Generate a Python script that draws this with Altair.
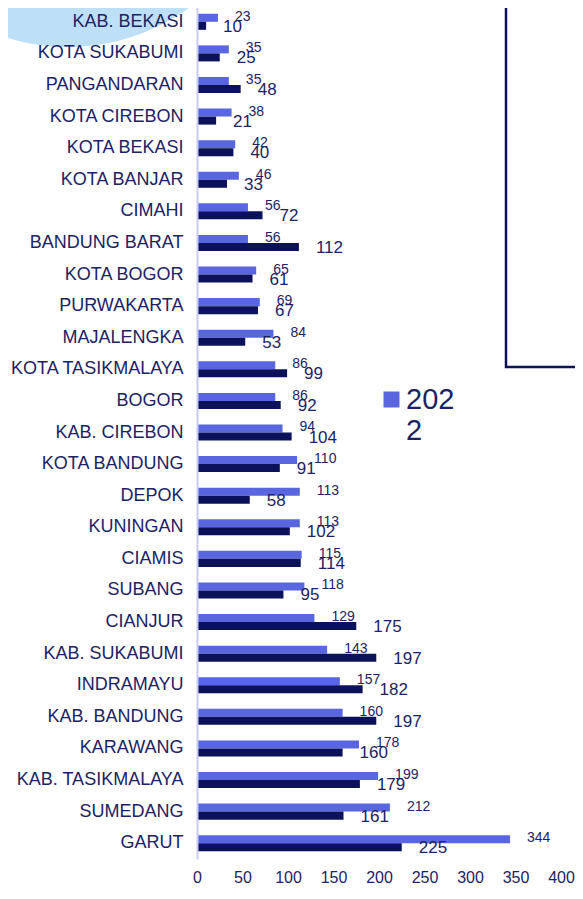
import altair as alt
import pandas as pd

regions = ["KAB. BEKASI", "KOTA SUKABUMI", "PANGANDARAN", "KOTA CIREBON", "KOTA BEKASI",
           "KOTA BANJAR", "CIMAHI", "BANDUNG BARAT", "KOTA BOGOR", "PURWAKARTA",
           "MAJALENGKA", "KOTA TASIKMALAYA", "BOGOR", "KAB. CIREBON", "KOTA BANDUNG",
           "DEPOK", "KUNINGAN", "CIAMIS", "SUBANG", "CIANJUR", "KAB. SUKABUMI",
           "INDRAMAYU", "KAB. BANDUNG", "KARAWANG", "KAB. TASIKMALAYA", "SUMEDANG", "GARUT"]
val_2022 = [23, 35, 35, 38, 42, 46, 56, 56, 65, 69, 84, 86, 86, 94, 110, 113, 113, 115, 118,
            129, 143, 157, 160, 178, 199, 212, 344]
val_2021 = [10, 25, 48, 21, 40, 33, 72, 112, 61, 67, 53, 99, 92, 104, 91, 58, 102, 114, 95,
            175, 197, 182, 197, 160, 179, 161, 225]
years = ["2022", "2021"]
x_ticks = [0, 50, 100, 150, 200, 250, 300, 350, 400]

LIGHT = "#5A66DF"
DARK = "#0B1259"
TEXT = "#1C2264"
FONT = "Arial"

rows = []
for r, a, b in zip(regions, val_2022, val_2021):
    rows.append({"region": r, "year": "2022", "value": a})
    rows.append({"region": r, "year": "2021", "value": b})
df = pd.DataFrame(rows)

base = alt.Chart(df).encode(
    y=alt.Y("region:N", sort=regions,
            scale=alt.Scale(range=[-2, 851], paddingInner=0, paddingOuter=0),
            axis=alt.Axis(title=None, ticks=False, labelPadding=14, labelFontSize=18,
                          labelColor=TEXT, labelFont=FONT, domainColor="#C8CCF4",
                          domainWidth=2, labelLimit=300, zindex=1)),
    yOffset=alt.YOffset("year:N", sort=years,
                        scale=alt.Scale(paddingInner=0, paddingOuter=0.97)),
)

xenc = alt.X("value:Q", scale=alt.Scale(domain=[0, 400]),
             axis=alt.Axis(values=x_ticks, title=None, domain=False, ticks=False, grid=False,
                           labelFontSize=16, labelColor=TEXT, labelFont=FONT, labelPadding=10,
                           labelFlush=False))

bars = base.mark_bar().encode(
    x=xenc,
    color=alt.Color("year:N", scale=alt.Scale(domain=years, range=[LIGHT, DARK]),
                    legend=alt.Legend(values=["2022"], title=None, orient="none",
                                      legendX=180, legendY=377, symbolType="square",
                                      symbolSize=256, symbolStrokeWidth=0,
                                      labelFontSize=29, labelColor=TEXT, labelFont=FONT,
                                      labelExpr="datum.label == '2022' ? ['202','2'] : datum.label",
                                      padding=0, labelOffset=0)),
)

lbl_light = base.transform_filter(alt.datum.year == "2022").mark_text(
    align="left", dx=17, dy=-1, fontSize=14, color=TEXT, font=FONT
).encode(x="value:Q", text="value:Q")

lbl_dark = base.transform_filter(alt.datum.year == "2021").mark_text(
    align="left", dx=17, dy=1, fontSize=17, color=TEXT, font=FONT
).encode(x="value:Q", text="value:Q")

deco = pd.DataFrame({"k": [0]})
circle = alt.Chart(deco).mark_circle(size=171400, color="#BDE0F7", opacity=1).encode(
    x=alt.value(-129), y=alt.value(-168))
box = alt.Chart(deco).mark_rect(fill="transparent", stroke=DARK, strokeWidth=2.5).encode(
    x=alt.value(309), x2=alt.value(500), y=alt.value(-50), y2=alt.value(359))

chart = alt.layer(circle, box, bars, lbl_light, lbl_dark).properties(
    width=364, height=851,
    padding={"left": 189, "top": 0, "right": 14, "bottom": 25},
    autosize=alt.AutoSizeParams(type="none"),
).configure_view(stroke=None)

chart.save("out.html", embed_options={"renderer": "svg", "actions": False})
